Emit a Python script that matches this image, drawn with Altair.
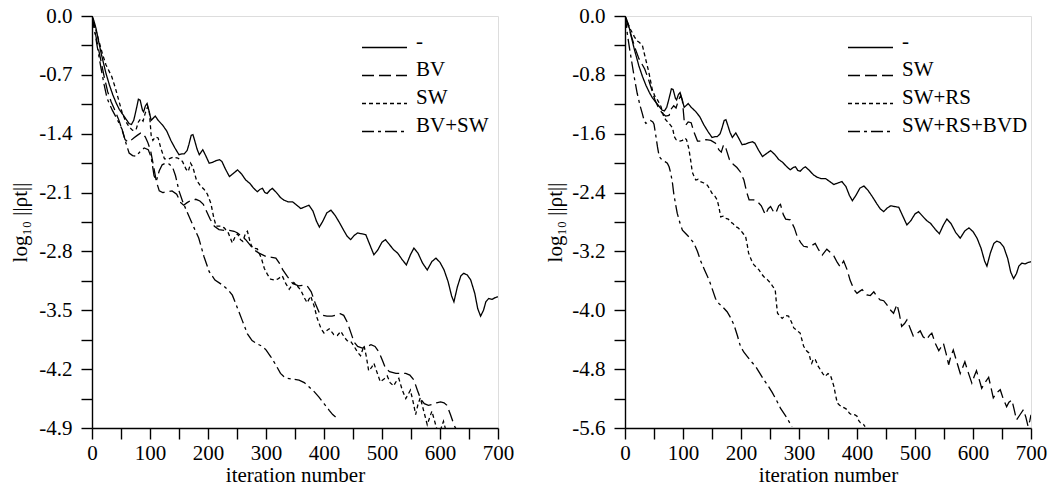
import altair as alt
import pandas as pd

FONT = "Liberation Serif"

# ---------------- data ----------------
# plain iteration "-" (same run in both panels)
BASE_IT = [0, 3, 7, 12, 16, 24, 30, 36, 42, 47, 53, 59, 64, 68, 72, 76, 80, 83, 87, 89, 92, 95, 98, 102, 105, 109,
           114, 122, 129, 136, 143, 150, 155, 159, 164, 167, 171, 174, 177, 181, 185, 191, 196, 202, 208, 214, 220,
           224, 230, 237, 244, 251, 258, 265, 272, 279, 285, 290, 294, 298, 302, 307, 311, 318, 325, 331, 338, 346,
           353, 360, 367, 374, 381, 387, 392, 398, 405, 412, 419, 426, 434, 440, 446, 452, 458, 465, 472, 479, 486,
           493, 500, 506, 513, 520, 527, 535, 542, 549, 555, 562, 570, 578, 586, 593, 600, 607, 614, 620, 624, 630,
           636, 641, 647, 653, 660, 665, 670, 675, 679, 684, 690, 695, 700]
BASE_V = [0.0, -0.05, -0.15, -0.32, -0.45, -0.68, -0.82, -0.94, -1.04, -1.11, -1.17, -1.23, -1.28, -1.29, -1.24,
          -1.12, -0.99, -1.0, -1.12, -1.14, -1.07, -1.04, -1.12, -1.24, -1.22, -1.19, -1.24, -1.30, -1.37, -1.48,
          -1.57, -1.65, -1.64, -1.64, -1.60, -1.53, -1.42, -1.41, -1.48, -1.58, -1.65, -1.59, -1.66, -1.75, -1.74,
          -1.72, -1.71, -1.73, -1.82, -1.91, -1.87, -1.83, -1.88, -1.95, -1.99, -2.05, -2.09, -2.06, -2.05, -2.10,
          -2.11, -2.07, -2.05, -2.10, -2.16, -2.19, -2.21, -2.21, -2.25, -2.29, -2.27, -2.25, -2.32, -2.44, -2.51,
          -2.44, -2.34, -2.31, -2.37, -2.45, -2.55, -2.62, -2.66, -2.61, -2.58, -2.59, -2.60, -2.72, -2.84, -2.78,
          -2.69, -2.66, -2.72, -2.78, -2.82, -2.90, -2.96, -2.84, -2.76, -2.82, -2.94, -3.02, -2.92, -2.88, -2.93,
          -3.02, -3.16, -3.33, -3.40, -3.22, -3.09, -3.06, -3.08, -3.14, -3.30, -3.48, -3.57, -3.50, -3.40, -3.36,
          -3.37, -3.35, -3.34]

# SW (dotted on the left, dashed on the right)
SW_IT = [0, 4, 10, 18, 24, 29, 34, 40, 46, 52, 58, 64, 70, 76, 80, 84, 88, 92, 96, 99, 102, 105, 109, 114, 119, 125,
         132, 140, 148, 156, 162, 166, 170, 174, 180, 187, 193, 199, 205, 210, 214, 222, 228, 235, 242, 247, 251,
         256, 260, 265, 268, 273, 277, 285, 292, 297, 303, 308, 315, 320, 328, 334, 340, 345, 348, 355, 360, 366,
         371, 377, 383, 388, 395, 400, 405, 409, 417, 423, 429, 435, 440, 446, 452, 458, 463, 469, 473, 477, 482,
         486, 492, 497, 503, 509, 514, 520, 525, 529, 535, 541, 545, 549, 554, 558, 562, 566, 572, 578, 582, 586,
         592, 598, 602, 606, 611, 615, 621, 627, 631, 635, 641, 647, 652, 658, 662, 667, 671, 675, 681, 687, 691,
         695, 698, 700]
SW_V = [0.0, -0.1, -0.25, -0.45, -0.58, -0.65, -0.72, -0.85, -1.0, -1.15, -1.25, -1.32, -1.36, -1.35, -1.26, -1.22,
        -1.25, -1.15, -1.08, -1.15, -1.42, -1.48, -1.44, -1.45, -1.58, -1.70, -1.70, -1.68, -1.69, -1.73, -1.82,
        -1.85, -1.75, -1.80, -1.95, -2.02, -2.06, -2.12, -2.23, -2.40, -2.50, -2.50, -2.52, -2.58, -2.70, -2.62,
        -2.59, -2.66, -2.68, -2.58, -2.56, -2.70, -2.76, -2.77, -2.88, -3.00, -3.08, -3.13, -3.14, -3.13, -3.09,
        -3.18, -3.25, -3.20, -3.17, -3.22, -3.26, -3.35, -3.41, -3.33, -3.45, -3.59, -3.72, -3.77, -3.74, -3.72,
        -3.79, -3.80, -3.75, -3.82, -3.86, -3.87, -3.93, -4.00, -4.04, -3.92, -4.05, -4.22, -4.18, -4.13, -4.25,
        -4.35, -4.32, -4.28, -4.36, -4.40, -4.34, -4.31, -4.45, -4.55, -4.50, -4.45, -4.60, -4.74, -4.62, -4.54,
        -4.70, -4.86, -4.78, -4.70, -4.85, -4.99, -4.90, -4.82, -4.95, -5.06, -4.98, -4.91, -5.05, -5.19, -5.12,
        -5.08, -5.20, -5.31, -5.25, -5.22, -5.35, -5.49, -5.42, -5.35, -5.45, -5.58, -5.50, -5.42]

# BV (left, dashed)
BV_IT = [0, 4, 9, 15, 21, 27, 33, 40, 47, 53, 57, 62, 67, 72, 78, 84, 88, 92, 96, 101, 106, 111, 116, 122, 130, 138,
         146, 153, 158, 164, 171, 179, 186, 192, 198, 204, 211, 219, 228, 237, 245, 251, 258, 265, 272, 279, 288,
         300, 310, 317, 323, 329, 337, 346, 356, 366, 372, 378, 385, 392, 398, 405, 414, 420, 428, 434, 440, 446,
         452, 458, 466, 474, 481, 488, 495, 501, 506, 513, 524, 533, 541, 548, 555, 561, 567, 573, 580, 587, 594,
         601, 607, 612, 618, 624, 630]
BV_V = [0.0, -0.14, -0.32, -0.52, -0.72, -0.9, -1.02, -1.13, -1.25, -1.38, -1.47, -1.50, -1.48, -1.45, -1.42, -1.39,
        -1.40, -1.44, -1.50, -1.60, -1.78, -1.97, -2.08, -2.10, -2.09, -2.08, -2.12, -2.22, -2.25, -2.22, -2.19,
        -2.18, -2.20, -2.24, -2.33, -2.42, -2.50, -2.54, -2.55, -2.55, -2.56, -2.58, -2.62, -2.66, -2.72, -2.78,
        -2.82, -2.86, -2.87, -2.88, -2.94, -3.02, -3.10, -3.18, -3.21, -3.20, -3.22, -3.28, -3.42, -3.53, -3.56,
        -3.57, -3.57, -3.56, -3.54, -3.56, -3.64, -3.76, -3.88, -3.93, -3.95, -3.93, -3.91, -3.93, -4.00, -4.10,
        -4.19, -4.23, -4.25, -4.25, -4.25, -4.27, -4.33, -4.45, -4.56, -4.61, -4.63, -4.62, -4.60, -4.59, -4.60,
        -4.63, -4.74, -4.86, -4.95]

# BV+SW (left, dash-dot)
BVSW_IT = [0, 3, 9, 15, 21, 26, 35, 45, 52, 58, 64, 70, 76, 82, 90, 97, 102, 107, 111, 116, 121, 127, 133, 139, 144,
           150, 157, 167, 176, 184, 193, 202, 212, 225, 235, 242, 250, 259, 268, 276, 285, 294, 300, 308, 317, 325,
           331, 337, 347, 357, 366, 374, 382, 391, 400, 409, 415, 420]
BVSW_V = [0.0, -0.12, -0.36, -0.6, -0.82, -0.98, -1.12, -1.25, -1.35, -1.50, -1.63, -1.66, -1.67, -1.62, -1.57,
          -1.59, -1.68, -1.90, -1.96, -1.84, -1.77, -1.75, -1.76, -1.80, -1.90, -2.08, -2.22, -2.38, -2.52, -2.64,
          -2.86, -3.04, -3.14, -3.20, -3.26, -3.32, -3.46, -3.62, -3.78, -3.86, -3.90, -3.93, -3.97, -4.05, -4.15,
          -4.25, -4.29, -4.31, -4.32, -4.33, -4.36, -4.41, -4.46, -4.53, -4.61, -4.69, -4.74, -4.77]

# SW+RS (right, dotted)
SWRS_IT = [0, 4, 10, 16, 21, 25, 30, 33, 36, 41, 47, 52, 56, 62, 66, 70, 76, 82, 85, 88, 91, 95, 99, 103, 106, 110,
           113, 116, 119, 122, 126, 130, 136, 142, 146, 150, 155, 159, 162, 165, 169, 173, 178, 182, 186, 190, 195,
           199, 204, 208, 211, 213, 218, 222, 227, 231, 235, 239, 245, 251, 255, 259, 261, 263, 267, 271, 276, 282,
           287, 291, 297, 302, 305, 308, 313, 317, 320, 322, 325, 328, 333, 337, 341, 345, 350, 354, 357, 360, 363,
           366, 370, 374, 379, 383, 387, 391, 396, 400, 403, 406, 411, 414]
SWRS_V = [0.0, -0.08, -0.19, -0.28, -0.34, -0.36, -0.40, -0.50, -0.60, -0.76, -1.0, -1.10, -1.14, -1.23, -1.35,
          -1.41, -1.46, -1.52, -1.64, -1.68, -1.69, -1.70, -1.69, -1.66, -1.68, -1.80, -1.95, -2.12, -2.18, -2.23,
          -2.22, -2.25, -2.27, -2.30, -2.35, -2.41, -2.45, -2.50, -2.60, -2.73, -2.72, -2.75, -2.76, -2.80, -2.82,
          -2.86, -2.88, -2.91, -2.96, -3.00, -3.12, -3.22, -3.32, -3.38, -3.42, -3.45, -3.50, -3.54, -3.58, -3.63,
          -3.68, -3.72, -3.90, -4.04, -4.08, -4.11, -4.07, -4.08, -4.16, -4.24, -4.28, -4.31, -4.40, -4.49, -4.55,
          -4.58, -4.68, -4.72, -4.66, -4.67, -4.76, -4.81, -4.86, -4.90, -4.86, -4.88, -4.95, -5.03, -5.15, -5.26,
          -5.29, -5.31, -5.33, -5.35, -5.40, -5.42, -5.42, -5.44, -5.50, -5.53, -5.55, -5.58]

# SW+RS+BVD (right, dash-dot)
SWRSBVD_IT = [0, 2, 4, 8, 13, 17, 21, 26, 30, 33, 36, 40, 44, 48, 50, 53, 56, 59, 64, 69, 73, 76, 79, 82, 84, 87,
              90, 95, 99, 105, 110, 115, 119, 125, 130, 137, 145, 150, 156, 162, 168, 176, 182, 188, 194, 199, 205,
              211, 218, 225, 232, 239, 247, 254, 261, 268, 274, 279, 284, 288]
SWRSBVD_V = [0.0, -0.1, -0.24, -0.45, -0.69, -0.88, -1.05, -1.22, -1.33, -1.42, -1.46, -1.44, -1.42, -1.44, -1.47,
             -1.62, -1.78, -1.91, -1.96, -1.98, -2.00, -2.05, -2.14, -2.28, -2.41, -2.55, -2.68, -2.82, -2.91, -2.96,
             -3.00, -3.05, -3.09, -3.20, -3.32, -3.45, -3.59, -3.70, -3.84, -3.91, -3.95, -4.02, -4.10, -4.20, -4.35,
             -4.49, -4.57, -4.63, -4.70, -4.76, -4.85, -4.94, -5.03, -5.12, -5.22, -5.33, -5.40, -5.46, -5.53, -5.58]

# legend labels
LEFT_NAMES = ["-", "BV", "SW", "BV+SW"]
RIGHT_NAMES = ["-", "SW", "SW+RS", "SW+RS+BVD"]

# tick positions
X_TICKS = [0, 50, 100, 150, 200, 250, 300, 350, 400, 450, 500, 550, 600, 650, 700]
LEFT_Y_TICKS = [0.0, -0.35, -0.7, -1.05, -1.4, -1.75, -2.1, -2.45, -2.8, -3.15, -3.5, -3.85, -4.2, -4.55, -4.9]
RIGHT_Y_TICKS = [0.0, -0.4, -0.8, -1.2, -1.6, -2.0, -2.4, -2.8, -3.2, -3.6, -4.0, -4.4, -4.8, -5.2, -5.6]

DASHES = [[1, 0], [12, 5], [4, 3], [12, 4, 3, 4]]


def frame(names, series):
    rows = []
    for name, (its, vals) in zip(names, series):
        for i, v in zip(its, vals):
            rows.append({"iter": i, "value": v, "run": name})
    return pd.DataFrame(rows)


left_df = frame(LEFT_NAMES, [(BASE_IT, BASE_V), (BV_IT, BV_V), (SW_IT, SW_V), (BVSW_IT, BVSW_V)])
right_df = frame(RIGHT_NAMES, [(BASE_IT, BASE_V), (SW_IT, SW_V), (SWRS_IT, SWRS_V), (SWRSBVD_IT, SWRSBVD_V)])

Y_TITLE = "log\u2081\u2080 ||\u03c1t||"


def panel(df, names, yticks, ystep, ymin, legend_x, title_pad):
    xlabel = "datum.value % 100 === 0 ? format(datum.value, 'd') : ''"
    ylabel = (f"abs(datum.value/{ystep} - round(datum.value/{ystep})) < 0.001 ? "
              f"(abs(datum.value) < 0.001 ? '0.0' : '-' + format(abs(datum.value), '.1f')) : ''")
    common = dict(tickColor="black", domainColor="black", tickWidth=1.4, domainWidth=1.4, tickSize=11,
                  labelFont=FONT, labelFontSize=21, labelColor="black", titleFont=FONT, titleFontSize=21,
                  titleFontWeight="normal", titleColor="black", grid=False)
    return alt.Chart(df).mark_line(color="black", strokeWidth=1.3, clip=True).encode(
        x=alt.X("iter:Q", scale=alt.Scale(domain=[0, 700], nice=False),
                axis=alt.Axis(values=X_TICKS, labelExpr=xlabel, title="iteration number", labelPadding=3,
                              titlePadding=1, labelFlush=False, labelOverlap=False, **common)),
        y=alt.Y("value:Q", scale=alt.Scale(domain=[ymin, 0], nice=False, zero=False),
                axis=alt.Axis(values=yticks, labelExpr=ylabel, title=Y_TITLE, labelPadding=9,
                              titlePadding=title_pad, labelFlush=False, labelOverlap=False, **common)),
        strokeDash=alt.StrokeDash("run:N", scale=alt.Scale(domain=names, range=DASHES),
                                  legend=alt.Legend(orient="none", legendX=legend_x, legendY=21, title=None,
                                                    symbolType="stroke", symbolSize=2025, symbolStrokeWidth=1.3,
                                                    symbolStrokeColor="black", labelFont=FONT, labelFontSize=21,
                                                    labelColor="black", labelBaseline="alphabetic", labelOffset=8,
                                                    clipHeight=21, rowPadding=0, padding=0, labelLimit=300)),
        order=alt.Order("iter:Q"),
    ).properties(width=406, height=412)


left = panel(left_df, LEFT_NAMES, LEFT_Y_TICKS, 0.7, -4.9, 269, 8)
right = panel(right_df, RIGHT_NAMES, RIGHT_Y_TICKS, 0.8, -5.6, 222, 6)

chart = alt.hconcat(left, right, spacing=29).resolve_scale(strokeDash="independent").resolve_legend(
    strokeDash="independent"
).properties(padding={"left": 9, "top": 4, "right": 5, "bottom": 5}).configure_view(
    stroke="black", strokeWidth=1.4
).configure(font=FONT, background="white")

chart.save("out.html", embed_options={"renderer": "svg", "actions": False})
